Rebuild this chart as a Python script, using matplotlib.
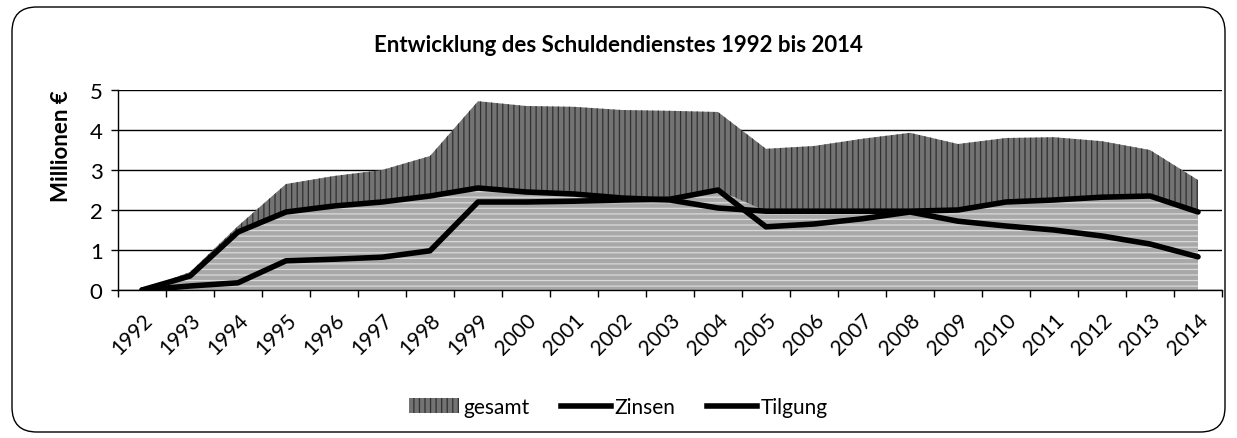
import numpy as np
import matplotlib
matplotlib.use("Agg")
import matplotlib.pyplot as plt
from matplotlib.patches import FancyBboxPatch, Patch
from matplotlib.lines import Line2D

plt.rcParams['font.family'] = ['Lato', 'DejaVu Sans']

years = [str(y) for y in range(1992, 2015)]

# Millionen Euro
gesamt = [0.0, 0.45, 1.6, 2.65, 2.85, 3.0, 3.35, 4.72, 4.6, 4.58, 4.5, 4.48, 4.45,
          3.53, 3.6, 3.78, 3.93, 3.65, 3.8, 3.82, 3.72, 3.5, 2.75]
zinsen = [0.0, 0.35, 1.45, 1.95, 2.1, 2.2, 2.35, 2.55, 2.45, 2.4, 2.3, 2.25, 2.05,
          1.97, 1.97, 1.97, 1.97, 2.0, 2.2, 2.25, 2.32, 2.35, 1.95]
tilgung = [0.0, 0.1, 0.18, 0.73, 0.77, 0.82, 0.98, 2.2, 2.2, 2.22, 2.25, 2.27, 2.5,
           1.58, 1.65, 1.78, 1.95, 1.72, 1.6, 1.5, 1.35, 1.15, 0.83]

x = np.arange(len(years))
upper_line = np.maximum(zinsen, tilgung)

fig = plt.figure(figsize=(12.37, 4.39), dpi=100)
ax = fig.add_axes([118 / 1237, 1 - 291 / 439, (1222 - 118) / 1237, 200 / 439])

# rounded frame around the whole chart
frame = FancyBboxPatch((12 / 1237, 6 / 439), 1213 / 1237, 425 / 439,
                       boxstyle="round,pad=0,rounding_size=0.02",
                       transform=fig.transFigure, fill=False,
                       edgecolor='black', linewidth=1.0, mutation_aspect=1237 / 439)
fig.patches.append(frame)

# gesamt area: darker on top, lighter under the lines (as in the print)
plt.rcParams['hatch.linewidth'] = 0.9
ax.fill_between(x, 0, gesamt, facecolor='#737373', edgecolor='#303030',
                hatch='|||', linewidth=0, zorder=2)
ax.fill_between(x, 0, upper_line, facecolor='#a8a8a8', edgecolor='#dadada',
                hatch='---', linewidth=0, zorder=2)

ax.plot(x, zinsen, color='black', lw=4, solid_capstyle='round', zorder=3)
ax.plot(x, tilgung, color='black', lw=4, solid_capstyle='round', zorder=3)

ax.set_xlim(-0.5, len(years) - 0.5)
ax.set_ylim(0, 5)
ax.set_yticks(range(0, 6))
ax.yaxis.grid(True, color='black', lw=1.0, zorder=0)
ax.set_axisbelow(True)

ax.set_xticks(x)
ax.set_xticklabels(years, rotation=45, ha='right', va='top',
                   rotation_mode='anchor', fontsize=15)
ax.set_xticks(np.arange(-0.5, len(years)), minor=True)
ax.tick_params(axis='x', which='major', length=0, pad=14)
ax.tick_params(axis='x', which='minor', length=5, width=1, direction='out')
ax.tick_params(axis='y', length=5, width=1, labelsize=16, pad=6)

for side in ['top', 'right']:
    ax.spines[side].set_visible(False)
ax.spines['left'].set_linewidth(1.0)
ax.spines['bottom'].set_linewidth(1.0)

fig.text(62 / 1237, 1 - 146 / 439, 'Millionen €', rotation=90, fontsize=16,
         fontweight='bold', ha='center', va='center')
fig.text(0.5, 1 - 45 / 439, 'Entwicklung des Schuldendienstes 1992 bis 2014',
         fontsize=16, fontweight='bold', ha='center', va='center')

handles = [Patch(facecolor='#737373', edgecolor='#303030', hatch='|||', linewidth=0),
           Line2D([], [], color='black', lw=4),
           Line2D([], [], color='black', lw=4)]
fig.legend(handles, ['gesamt', 'Zinsen', 'Tilgung'], loc='center',
           bbox_to_anchor=(0.5, 1 - 408 / 439), ncol=3, frameon=False,
           fontsize=15, handlelength=2.4, handletextpad=0.2, columnspacing=1.5)

fig.savefig('out.png', dpi=100)
